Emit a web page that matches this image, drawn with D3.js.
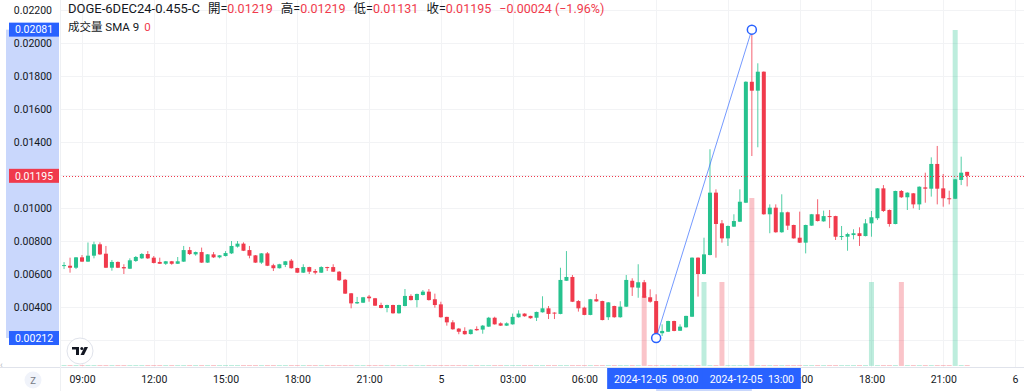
<!DOCTYPE html>
<html>
<head>
<meta charset="utf-8">
<script src="https://cdn.jsdelivr.net/npm/d3@7"></script>
<style>
  html, body { margin: 0; padding: 0; background: #fff; }
  svg { display: block; font-family: Roboto, "Noto Sans CJK TC", sans-serif; }
</style>
</head>
<body>
<div id="chart"></div>
<script>
// Velas de 15 minutos desde el 4 dic 2024 08:15 (UTC).
// Precios en unidades de 0.00001 -> [open, high, low, close]
const startTime = Date.UTC(2024, 11, 4, 8, 15);
const barMinutes = 15;
const priceUnit = 0.00001;

const ohlc = [
  [648,672,630,654],[650,699,608,638],[638,703,630,701],[701,715,673,675],[675,791,673,711],
  [711,796,695,780],[780,792,715,719],[723,770,636,638],[638,685,620,673],[673,676,636,638],
  [642,659,600,634],[632,695,630,683],[679,709,673,703],[695,727,691,721],[721,739,691,695],
  [699,709,664,667],[673,699,661,662],[662,679,655,677],[677,679,656,662],[662,703,661,677],
  [675,770,673,745],[745,764,715,721],[719,736,711,733],[733,760,667,669],[669,721,667,719],
  [719,733,697,701],[701,715,695,713],[709,739,706,727],[725,800,721,770],[766,800,760,784],
  [784,792,739,741],[745,770,695,711],[713,715,667,669],[669,727,661,725],[725,733,648,650],
  [653,662,618,635],[635,662,633,659],[655,679,642,677],[681,691,633,635],[636,638,606,608],
  [608,659,606,642],[642,644,600,614],[618,630,598,608],[608,647,606,642],[642,644,618,638],
  [642,659,612,614],[614,618,558,562],[565,570,479,481],[483,485,392,422],[422,461,418,430],
  [426,461,424,459],[463,473,432,453],[453,455,406,408],[412,426,392,394],[394,414,368,412],
  [412,414,359,362],[362,414,359,412],[406,509,404,467],[467,477,439,442],[442,481,398,479],
  [473,503,470,493],[493,509,439,442],[447,481,396,412],[416,432,335,338],[340,341,287,307],
  [307,320,262,265],[269,273,235,250],[255,277,232,235],[236,265,233,263],[267,283,256,259],
  [263,291,238,287],[281,340,279,335],[335,341,293,295],[301,307,285,287],[287,307,285,301],
  [295,360,293,340],[338,380,335,360],[360,362,341,344],[346,347,329,332],[335,372,315,370],
  [368,465,366,392],[392,406,327,358],[366,368,327,362],[358,638,356,564],[559,739,558,582],
  [582,594,430,432],[436,442,372,392],[396,402,350,352],[352,449,350,447],[447,479,432,434],
  [436,438,319,321],[338,430,321,428],[406,408,335,338],[338,435,335,402],[402,594,400,564],
  [559,574,467,519],[517,659,456,550],[550,564,455,456],[459,507,426,432],[436,477,212,230],
  [241,295,224,255],[250,317,249,315],[315,317,253,255],[256,295,255,281],[277,347,275,346],
  [341,701,340,699],[699,701,463,600],[600,820,598,719],[715,1356,713,1093],[1093,1113,699,903],
  [907,927,790,816],[816,894,770,891],[887,962,885,921],[917,1113,915,1038],[1032,1768,1030,1765],
  [1765,2081,1315,1711],[1711,1877,1368,1826],[1826,1828,959,962],[962,1022,847,1002],[1002,1022,850,853],
  [853,1083,850,974],[974,978,867,893],[897,899,814,816],[820,978,788,790],[790,899,725,897],
  [893,964,891,962],[962,1053,918,921],[919,984,917,951],[951,988,878,947],[951,953,806,826],
  [826,891,806,830],[826,850,741,842],[836,871,810,847],[847,883,770,830],[830,933,828,907],
  [907,982,826,944],[938,1121,927,1119],[1119,1139,976,982],[988,991,887,903],[903,1105,901,1103],
  [1103,1109,1061,1065],[1065,1095,988,1093],[1089,1091,998,1022],[1022,1131,988,1129],[1125,1214,1032,1117],
  [1117,1307,1069,1267],[1267,1376,1022,1117],[1119,1206,1008,1059],[1059,1105,1022,1056],[1056,1176,1054,1174],
  [1170,1311,1139,1214],[1219,1219,1131,1195]
];

// Volumen por vela (la mayoría 0)
const volume = [
  0,0,0,0,0,0,0,0,0,0, 0,0,0,0,0,0,0,0,0,0,
  0,0,0,0,0,0,0,0,0,0, 0,0,0,0,0,0,0,0,0,0,
  0,0,0,0,0,0,0,0,0,0, 0,0,0,0,0,0,0,0,0,0,
  0,0,0,0,0,0,0,0,0,0, 0,0,0,0,0,0,0,0,0,0,
  0,0,0,0,0,0,0,0,0,0, 0,0,0,0,0,0,0,5,0,0,
  0,0,0,0,0,0,0,6,0,0, 6,0,0,0,0,12,0,0,0,0,
  0,0,0,0,0,0,0,0,0,0, 0,0,0,0,0,6,0,0,0,0,
  6,0,0,0,0,0,0,0,0,24, 0,0
];

// Rejilla cada 0.002; las etiquetas tapadas por las cajas no se escriben
const priceTicks = [0.022, 0.020, 0.018, 0.016, 0.014, 0.012, 0.010, 0.008, 0.006, 0.004, 0.002];
const priceLabels = [0.022, 0.020, 0.018, 0.016, 0.014, 0.010, 0.008, 0.006, 0.004];
const timeTicks = [
  [Date.UTC(2024,11,4,9), "09:00"], [Date.UTC(2024,11,4,12), "12:00"], [Date.UTC(2024,11,4,15), "15:00"],
  [Date.UTC(2024,11,4,18), "18:00"], [Date.UTC(2024,11,4,21), "21:00"], [Date.UTC(2024,11,5,0), "5"],
  [Date.UTC(2024,11,5,3), "03:00"], [Date.UTC(2024,11,5,6), "06:00"], [Date.UTC(2024,11,5,9), ""],
  [Date.UTC(2024,11,5,12), ""], [Date.UTC(2024,11,5,15), "15:00"], [Date.UTC(2024,11,5,18), "18:00"],
  [Date.UTC(2024,11,5,21), "21:00"], [Date.UTC(2024,11,6,0), "6"]
];

const lastPrice = 0.01195;
const rangeStart = { bar: 99, price: 0.00212, label: "2024-12-05  09:00" };
const rangeEnd = { bar: 115, price: 0.02081, label: "2024-12-05  13:00" };

const title = "DOGE-6DEC24-0.455-C";
const legendItems = [["開=", "0.01219"], ["高=", "0.01219"], ["低=", "0.01131"], ["收=", "0.01195"]];
const changeText = "−0.00024 (−1.96%)";

// Dimensiones
const width = 1024, height = 391;
const axisW = 60, paneBottom = 367;

const upColor = "#26c28e", downColor = "#f03a4c";
const upVol = "rgba(38,194,142,0.3)", downVol = "rgba(240,58,76,0.3)";
const blue = "#2962ff";

const bars = ohlc.map((d, i) => ({
  i,
  t: startTime + i * barMinutes * 60000,
  o: d[0] * priceUnit, h: d[1] * priceUnit, l: d[2] * priceUnit, c: d[3] * priceUnit,
  v: volume[i]
}));

const x = d3.scaleUtc()
  .domain([Date.UTC(2024,11,4,9), Date.UTC(2024,11,6,0)])
  .range([82, 1015]);
const y = d3.scaleLinear().domain([0.002, 0.022]).range([340, 10]);
const yv = d3.scaleLinear().domain([0, 24]).range([366, 30]);

const svg = d3.select("#chart").append("svg")
  .attr("width", width)
  .attr("height", height);

// Rejilla
const grid = svg.append("g").attr("stroke", "#f2f3f5").attr("stroke-width", 1);
grid.selectAll("line.h").data(priceTicks).join("line")
  .attr("x1", axisW).attr("x2", width)
  .attr("y1", d => Math.round(y(d)) + 0.5).attr("y2", d => Math.round(y(d)) + 0.5);
grid.selectAll("line.v").data(timeTicks).join("line")
  .attr("x1", d => Math.round(x(d[0])) + 0.5).attr("x2", d => Math.round(x(d[0])) + 0.5)
  .attr("y1", 0).attr("y2", paneBottom);

// Volumen
svg.append("g").selectAll("rect").data(bars).join("rect")
  .attr("x", d => x(d.t) - 2.5)
  .attr("width", 5)
  .attr("y", d => Math.min(yv(d.v), 365))
  .attr("height", d => Math.max(366 - yv(d.v), 1))
  .attr("fill", d => d.c >= d.o ? upVol : downVol);

// Velas
const candle = svg.append("g").selectAll("g").data(bars).join("g");
candle.append("line")
  .attr("x1", d => x(d.t)).attr("x2", d => x(d.t))
  .attr("y1", d => y(d.h)).attr("y2", d => y(d.l))
  .attr("stroke", d => d.c >= d.o ? upColor : downColor)
  .attr("stroke-opacity", 0.8)
  .attr("stroke-width", 1);
candle.append("rect")
  .attr("x", d => x(d.t) - 2)
  .attr("width", 4)
  .attr("y", d => y(Math.max(d.o, d.c)))
  .attr("height", d => Math.max(Math.abs(y(d.o) - y(d.c)), 1))
  .attr("fill", d => d.c >= d.o ? upColor : downColor);

// Línea del último precio
svg.append("line")
  .attr("x1", axisW).attr("x2", width)
  .attr("y1", Math.round(y(lastPrice)) + 0.5).attr("y2", Math.round(y(lastPrice)) + 0.5)
  .attr("stroke", downColor).attr("stroke-dasharray", "1,2");

// Dibujo de rango
const p1 = [x(bars[rangeStart.bar].t), y(rangeStart.price)];
const p2 = [x(bars[rangeEnd.bar].t), y(rangeEnd.price)];
svg.append("line")
  .attr("x1", p1[0]).attr("y1", p1[1]).attr("x2", p2[0]).attr("y2", p2[1])
  .attr("stroke", blue).attr("stroke-opacity", 0.65).attr("stroke-width", 1);
svg.selectAll("circle.anchor").data([p1, p2]).join("circle")
  .attr("cx", d => d[0]).attr("cy", d => d[1]).attr("r", 4.5)
  .attr("fill", "#fff").attr("stroke", blue).attr("stroke-width", 1.5);

// Separadores
svg.append("line").attr("x1", 0).attr("x2", width).attr("y1", paneBottom + 0.5).attr("y2", paneBottom + 0.5)
  .attr("stroke", "#e0e3eb");
svg.append("line").attr("x1", axisW + 0.5).attr("x2", axisW + 0.5).attr("y1", 0).attr("y2", height)
  .attr("stroke", "#eef0f3");

// Eje de precios
svg.append("rect")
  .attr("x", 6).attr("width", axisW - 7)
  .attr("y", y(rangeEnd.price)).attr("height", y(rangeStart.price) - y(rangeEnd.price))
  .attr("fill", "#c9d7fc");

const yAxis = svg.append("g")
  .attr("transform", `translate(${axisW},0)`)
  .call(d3.axisLeft(y).tickValues(priceLabels).tickSize(0).tickPadding(8).tickFormat(d3.format(".5f")));
yAxis.select(".domain").remove();
yAxis.selectAll("text").attr("font-size", 10.5).attr("fill", "#131722")
  .attr("font-family", "Roboto, sans-serif");

function priceTag(price, fill) {
  const g = svg.append("g").attr("transform", `translate(0,${y(price)})`);
  g.append("rect").attr("x", 9).attr("y", -7).attr("width", 50).attr("height", 14).attr("fill", fill);
  g.append("text").attr("x", 34).attr("dy", "0.35em").attr("text-anchor", "middle")
    .attr("font-size", 10.5).attr("fill", "#fff").text(d3.format(".5f")(price));
}
priceTag(rangeEnd.price, blue);
priceTag(lastPrice, downColor);
priceTag(rangeStart.price, blue);

// Eje de tiempo
const xAxis = svg.append("g")
  .attr("transform", `translate(0,${paneBottom})`)
  .call(d3.axisBottom(x).tickValues(timeTicks.filter(d => d[1]).map(d => d[0])).tickSize(0).tickPadding(9)
    .tickFormat(d => timeTicks.find(t => t[0] === +d)[1]));
xAxis.select(".domain").remove();
xAxis.selectAll("text").attr("font-size", 10.5).attr("fill", "#131722")
  .attr("font-family", "Roboto, sans-serif");

svg.append("rect").attr("x", p1[0]).attr("width", p2[0] - p1[0]).attr("y", 388).attr("height", 3)
  .attr("fill", "#c9d7fc");
[[rangeStart, p1], [rangeEnd, p2]].forEach(([r, p]) => {
  svg.append("rect").attr("x", p[0] - 49).attr("width", 98).attr("y", paneBottom + 1).attr("height", 21)
    .attr("fill", blue);
  svg.append("text").attr("x", p[0]).attr("y", paneBottom + 16).attr("text-anchor", "middle")
    .attr("font-size", 10.5).attr("fill", "#fff").style("white-space", "pre").text(r.label);
});

// Botón Z y flecha
svg.append("circle").attr("cx", 33).attr("cy", 380).attr("r", 8.5).attr("fill", "#f0f3fa");
svg.append("text").attr("x", 33).attr("y", 383.5).attr("text-anchor", "middle")
  .attr("font-size", 9.5).attr("fill", "#787b86").text("Z");
svg.append("text").attr("x", 0).attr("y", 368).attr("font-size", 9).attr("fill", "#b2b5be").text("‹");

// Logo
const logo = svg.append("g").attr("transform", "translate(80,351)");
logo.append("circle").attr("r", 13).attr("fill", "#fff").attr("stroke", "#e0e3eb");
logo.append("path").attr("d", "M-8,-4H-1V4H-4V-1.5H-8Z").attr("fill", "#131722");
logo.append("circle").attr("cx", 1.8).attr("cy", -2.4).attr("r", 1.5).attr("fill", "#131722");
logo.append("path").attr("d", "M4.5,-4H8L4,4H0.5Z").attr("fill", "#131722");

// Leyenda
const head = svg.append("text").attr("x", 68).attr("y", 12.5).attr("fill", "#131722");
head.append("tspan").attr("font-size", 13).text(title);
legendItems.forEach((d, k) => {
  head.append("tspan").attr("dx", 8).attr("font-size", 12.5).text(d[0]);
  head.append("tspan").attr("font-size", 12.5).attr("fill", downColor).text(d[1]);
});
head.append("tspan").attr("dx", 8).attr("font-size", 12.5).attr("fill", downColor).text(changeText);

const vol = svg.append("text").attr("x", 68).attr("y", 30.5).attr("font-size", 11.5).attr("fill", "#131722");
vol.append("tspan").text("成交量 SMA 9");
vol.append("tspan").attr("dx", 5).attr("fill", downColor).text("0");
</script>
</body>
</html>
